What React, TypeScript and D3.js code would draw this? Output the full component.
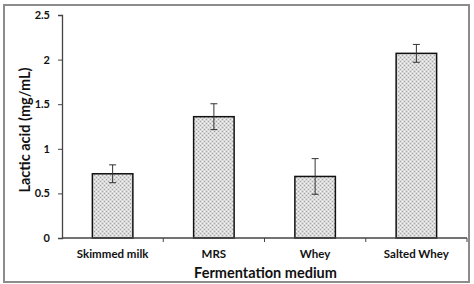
import React, { useEffect, useRef } from "react";
import * as d3 from "d3";

const categories = ["Skimmed milk", "MRS", "Whey", "Salted Whey"];
const means = [0.72, 1.36, 0.69, 2.07];
const errors = [0.1, 0.145, 0.2, 0.1];
const yTicks = [0, 0.5, 1, 1.5, 2, 2.5];

const App = () => {
  const svgRef = useRef<SVGSVGElement>(null);

  useEffect(() => {
    const svg = d3.select(svgRef.current);
    const width = 474;
    const height = 284;
    const margin = { top: 15, right: 7, bottom: 46, left: 62 };
    const font = "Lato, 'Open Sans', sans-serif";

    svg.selectAll("*").remove();

    const chartWidth = width - margin.left - margin.right;
    const chartHeight = height - margin.top - margin.bottom;

    // dotted fill like the original
    const defs = svg.append("defs");
    const pat = defs
      .append("pattern")
      .attr("id", "dots")
      .attr("width", 4)
      .attr("height", 4)
      .attr("patternUnits", "userSpaceOnUse");
    pat.append("rect").attr("width", 4).attr("height", 4).attr("fill", "#d9d9d9");
    [[0, 0], [2, 2]].forEach(([px, py]) =>
      pat.append("rect").attr("x", px).attr("y", py).attr("width", 1).attr("height", 1).attr("fill", "#a6a6a6")
    );
    [[2, 0], [0, 2]].forEach(([px, py]) =>
      pat.append("rect").attr("x", px).attr("y", py).attr("width", 1).attr("height", 1).attr("fill", "#f4f4f4")
    );

    svg
      .append("rect")
      .attr("x", 4)
      .attr("y", 5)
      .attr("width", 465)
      .attr("height", 277)
      .attr("fill", "white")
      .attr("stroke", "#8c8c8c")
      .attr("stroke-width", 2);

    const x = d3.scaleBand().domain(categories).range([0, chartWidth]);
    const y = d3.scaleLinear().domain([0, 2.5]).range([chartHeight, 0]);
    const barW = x.step() * 0.4;

    const g = svg
      .append("g")
      .attr("transform", `translate(${margin.left}, ${margin.top})`);

    // Bars
    g.selectAll(".bar")
      .data(means)
      .enter()
      .append("rect")
      .attr("class", "bar")
      .attr("x", (d, i) => x(categories[i])! + x.bandwidth() / 2 - barW / 2)
      .attr("y", (d) => y(d))
      .attr("width", barW)
      .attr("height", (d) => chartHeight - y(d))
      .attr("fill", "url(#dots)")
      .attr("stroke", "#111")
      .attr("stroke-width", 1.5);

    // Error bars
    const eb = g
      .selectAll(".err")
      .data(means)
      .enter()
      .append("g")
      .attr("class", "err")
      .attr("stroke", "#333")
      .attr("stroke-width", 1);
    const cx = (i: number) => x(categories[i])! + x.bandwidth() / 2;
    eb.append("line")
      .attr("x1", (d, i) => cx(i))
      .attr("x2", (d, i) => cx(i))
      .attr("y1", (d, i) => y(d + errors[i]))
      .attr("y2", (d, i) => y(d - errors[i]));
    eb.append("line")
      .attr("x1", (d, i) => cx(i) - 3.5)
      .attr("x2", (d, i) => cx(i) + 3.5)
      .attr("y1", (d, i) => y(d + errors[i]))
      .attr("y2", (d, i) => y(d + errors[i]));
    eb.append("line")
      .attr("x1", (d, i) => cx(i) - 3.5)
      .attr("x2", (d, i) => cx(i) + 3.5)
      .attr("y1", (d, i) => y(d - errors[i]))
      .attr("y2", (d, i) => y(d - errors[i]));

    // Y axis
    const yAxis = g
      .append("g")
      .call(
        d3
          .axisLeft(y)
          .tickValues(yTicks)
          .tickSize(4)
          .tickPadding(8)
          .tickFormat((d) => String(d))
      );
    yAxis.select(".domain").attr("stroke", "#444").attr("stroke-width", 1.3);
    yAxis.selectAll(".tick line").attr("stroke", "#444");
    yAxis
      .selectAll("text")
      .attr("font-family", font)
      .attr("font-weight", "bold")
      .attr("font-size", 11)
      .attr("fill", "#111");

    // X axis with ticks at band boundaries
    const xAxisG = g.append("g").attr("transform", `translate(0, ${chartHeight})`);
    xAxisG
      .append("line")
      .attr("x1", 0)
      .attr("x2", chartWidth)
      .attr("stroke", "#444")
      .attr("stroke-width", 1.3);
    xAxisG
      .selectAll(".xtick")
      .data(categories.slice(1).concat(["end"]))
      .enter()
      .append("line")
      .attr("x1", (d, i) => x.step() * (i + 1))
      .attr("x2", (d, i) => x.step() * (i + 1))
      .attr("y1", 0)
      .attr("y2", 4)
      .attr("stroke", "#444");
    xAxisG
      .selectAll(".xlabel")
      .data(categories)
      .enter()
      .append("text")
      .attr("x", (d) => x(d)! + x.bandwidth() / 2)
      .attr("y", 20)
      .attr("text-anchor", "middle")
      .attr("font-family", font)
      .attr("font-weight", "bold")
      .attr("font-size", 11.5)
      .attr("fill", "#111")
      .text((d) => d);

    // Axis titles
    svg
      .append("text")
      .attr("x", margin.left + chartWidth / 2 + 1)
      .attr("y", 278)
      .attr("text-anchor", "middle")
      .attr("font-family", font)
      .attr("font-weight", "bold")
      .attr("font-size", 14.5)
      .attr("fill", "#111")
      .text("Fermentation medium");

    svg
      .append("text")
      .attr("transform", `translate(30, 130) rotate(-90)`)
      .attr("text-anchor", "middle")
      .attr("font-family", font)
      .attr("font-weight", "bold")
      .attr("font-size", 14.5)
      .attr("fill", "#111")
      .text("Lactic acid (mg/mL)");
  }, []);

  return (
    <svg
      ref={svgRef}
      width={474}
      height={284}
      style={{ position: "absolute", left: 0, top: 0 }}
    ></svg>
  );
};

export default App;
